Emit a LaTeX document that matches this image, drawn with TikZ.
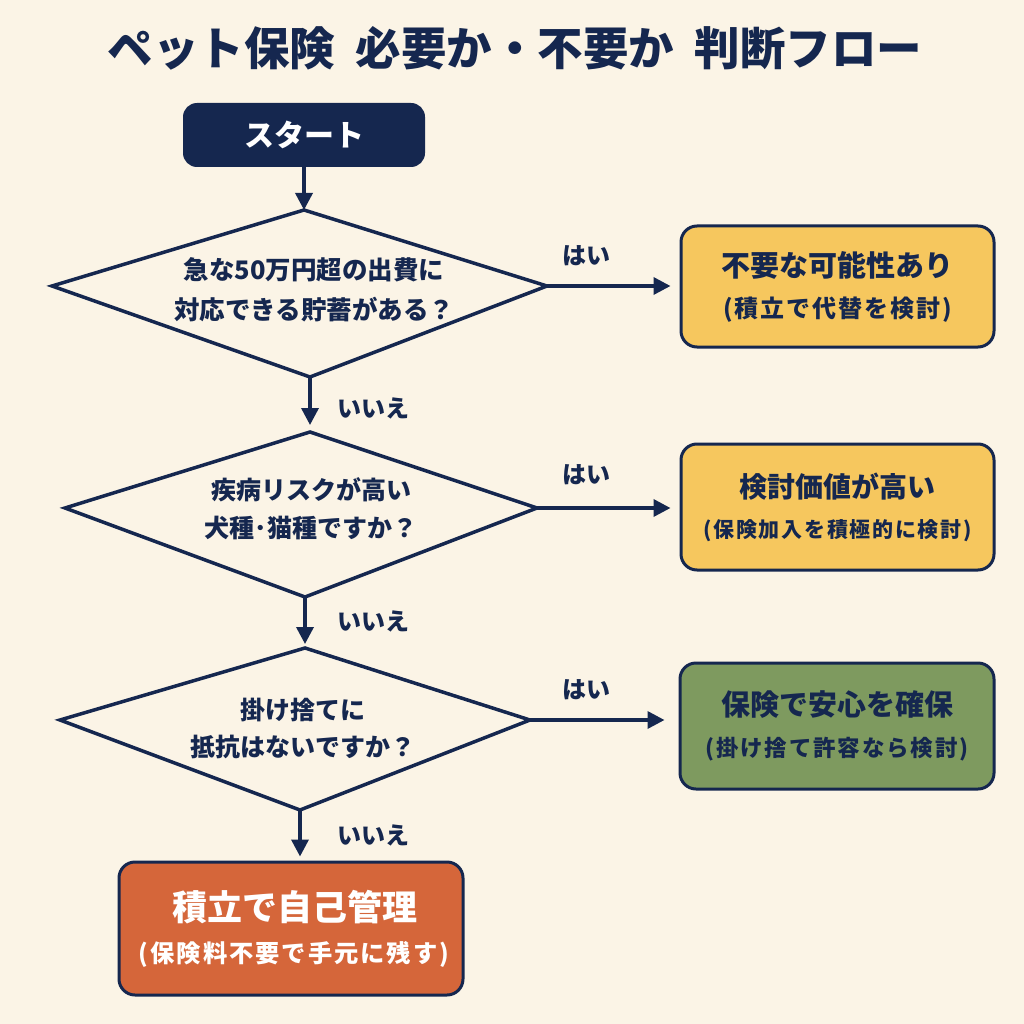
\documentclass[tikz,border=0pt]{standalone}
\usepackage{fontspec}
\setmainfont{Noto Sans CJK JP}
\usetikzlibrary{arrows.meta}
\definecolor{bg}{HTML}{FBF4E6}
\definecolor{navy}{HTML}{15274F}
\definecolor{yel}{HTML}{F6C75E}
\definecolor{grn}{HTML}{7E9A5F}
\definecolor{org}{HTML}{D5663A}
\newcommand{\subls}{\addfontfeature{LetterSpace=8}}
\begin{document}
\begin{tikzpicture}[x=1pt,y=-1pt,
  dline/.style={draw=navy,line width=3.5pt},
  arr/.style={draw=navy,line width=3.5pt,-{Triangle[length=17pt,width=17pt]}},
  box/.style={draw=navy,line width=3pt,rounded corners=16pt,align=center,inner sep=0pt},
  lab/.style={text=navy,font=\bfseries\fontsize{24}{24}\selectfont},
  q/.style={text=navy,align=center,font=\bfseries\fontsize{25.5}{40}\selectfont}]
\fill[bg] (0,0) rectangle (1024,1024);
\node[text=navy,font=\bfseries\fontsize{45.5}{45.5}\selectfont] (title) at (515,48) {ペット保険\hspace{0.45em}必要か・不要か\hspace{0.45em}判断フロー};
\node[fill=navy,rounded corners=14pt,minimum width=242pt,minimum height=64pt,text=white,font=\bfseries\fontsize{30}{30}\selectfont] (start) at (304,135) {スタート};
% diamond 1
\coordinate (d1t) at (304,210);
\coordinate (d1l) at (52,286);
\coordinate (d1r) at (547,286);
\coordinate (d1b) at (310,377);
\draw[dline] (d1t) -- (d1r) -- (d1b) -- (d1l) -- cycle;
\node[q] (q1) at (314,290) {急な50万円超の出費に\\対応できる貯蓄がある？};
% diamond 2
\coordinate (d2t) at (310,432);
\coordinate (d2l) at (65,508);
\coordinate (d2r) at (537,508);
\coordinate (d2b) at (305,597);
\draw[dline] (d2t) -- (d2r) -- (d2b) -- (d2l) -- cycle;
\node[q,font=\bfseries\fontsize{25}{38}\selectfont] (q2) at (311,509) {疾病リスクが高い\\犬種･猫種ですか？};
% diamond 3
\coordinate (d3t) at (305,648);
\coordinate (d3l) at (60,720);
\coordinate (d3r) at (530,720);
\coordinate (d3b) at (300,810);
\draw[dline] (d3t) -- (d3r) -- (d3b) -- (d3l) -- cycle;
\node[q,font=\bfseries\fontsize{25}{37}\selectfont] (q3) at (303,728) {掛け捨てに\\抵抗はないですか？};
% result boxes
\node[box,fill=yel,text=navy,minimum width=313pt,minimum height=121pt,font=\bfseries\fontsize{24}{41}\selectfont] (r1) at (837.5,286.5) {{\fontsize{29}{29}\selectfont 不要な可能性あり}\\{\subls(積立で代替を検討)}};
\node[box,fill=yel,text=navy,minimum width=313pt,minimum height=126pt,font=\bfseries\fontsize{21}{40}\selectfont] (r2) at (837.5,507) {{\fontsize{28}{28}\selectfont 検討価値が高い}\\{\subls(保険加入を積極的に検討)}};
\node[box,fill=grn,text=navy,minimum width=314pt,minimum height=126pt,font=\bfseries\fontsize{22.5}{41}\selectfont] (r3) at (837,726) {{\fontsize{29}{29}\selectfont 保険で安心を確保}\\{\subls(掛け捨て許容なら検討)}};
\node[box,fill=org,text=white,minimum width=344pt,minimum height=133pt,font=\bfseries\fontsize{24.3}{42}\selectfont] (r4) at (291,928.5) {{\fontsize{35}{35}\selectfont\hspace{8pt}積立で自己管理}\\{\subls\hspace{6pt}(保険料不要で手元に残す)}};
% connectors
\draw[arr] (start.south) -- (d1t);
\draw[arr,shorten >=9pt] (d1r) -- (d1r -| r1.west);
\draw[arr,shorten >=7pt] (d1b) -- (d1b |- d2t);
\draw[arr,shorten >=9pt] (d2r) -- (d2r -| r2.west);
\draw[arr,shorten >=4pt] (d2b) -- (d2b |- d3t);
\draw[arr,shorten >=14pt] (d3r) -- (d3r -| r3.west);
\draw[arr,shorten >=4pt] (d3b) -- (d3b |- r4.north);
% labels
\node[lab] (y1) at (586,256) {はい};
\node[lab] (y2) at (586,475) {はい};
\node[lab] (y3) at (586,690) {はい};
\node[lab] (n1) at (373,408) {いいえ};
\node[lab] (n2) at (373,621) {いいえ};
\node[lab] (n3) at (373,835) {いいえ};
\end{tikzpicture}
\end{document}
